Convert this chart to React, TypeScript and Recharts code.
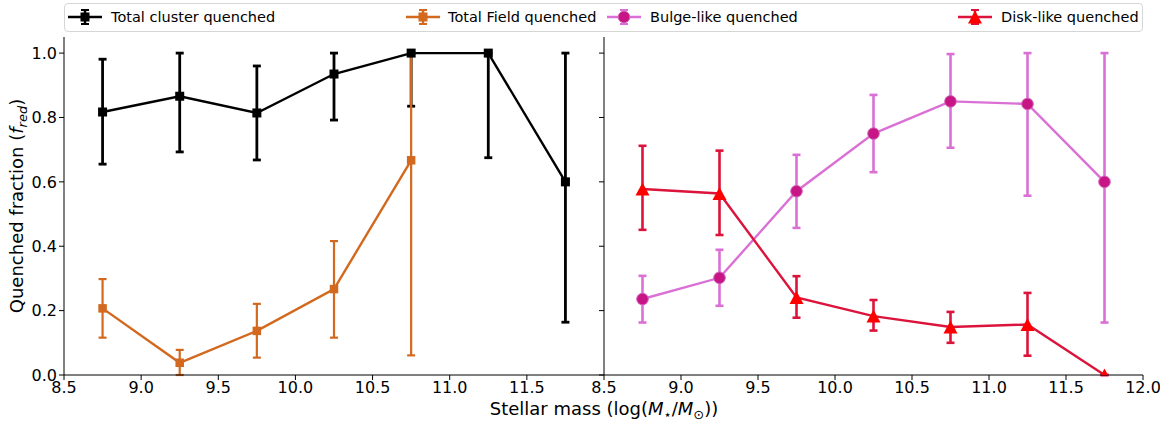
import React from 'react';
import { LineChart, Line, XAxis, YAxis, ErrorBar } from 'recharts';

// stellar mass bin centres, log(M*/Msun)
const massBins = [8.75, 9.25, 9.75, 10.25, 10.75, 11.25, 11.75];

const clusterFrac = [0.817, 0.866, 0.814, 0.935, 1.0, 1.0, 0.6];
const clusterLo = [0.655, 0.693, 0.668, 0.792, 0.835, 0.675, 0.164];
const clusterHi = [0.981, 1.0, 0.96, 1.0, 1.0, 1.0, 1.0];

const fieldFrac = [0.207, 0.038, 0.137, 0.267, 0.667];
const fieldLo = [0.116, 0.0, 0.054, 0.116, 0.061];
const fieldHi = [0.298, 0.078, 0.221, 0.416, 1.0];

const bulgeFrac = [0.236, 0.302, 0.571, 0.75, 0.85, 0.842, 0.6];
const bulgeLo = [0.163, 0.215, 0.457, 0.63, 0.706, 0.557, 0.163];
const bulgeHi = [0.308, 0.389, 0.684, 0.87, 0.997, 1.0, 1.0];

const diskFrac = [0.578, 0.564, 0.241, 0.183, 0.149, 0.157, 0.0];
const diskLo = [0.451, 0.435, 0.178, 0.138, 0.1, 0.06, 0.0];
const diskHi = [0.712, 0.697, 0.307, 0.233, 0.196, 0.255, 0.0];

const leftTicks = [8.5, 9.0, 9.5, 10.0, 10.5, 11.0, 11.5];
const rightTicks = [8.5, 9.0, 9.5, 10.0, 10.5, 11.0, 11.5, 12.0];
const yTicks = [0, 0.2, 0.4, 0.6, 0.8, 1.0];

const FONT = 'DejaVu Sans';

function buildRows(ys: number[], lo: number[], hi: number[]) {
  return ys.map((y, i) => ({ x: massBins[i], y, err: [y - lo[i], hi[i] - y] }));
}

const clusterRows = buildRows(clusterFrac, clusterLo, clusterHi);
const fieldRows = buildRows(fieldFrac, fieldLo, fieldHi);
const bulgeRows = buildRows(bulgeFrac, bulgeLo, bulgeHi);
const diskRows = buildRows(diskFrac, diskLo, diskHi);

const squareDot = (size: number, fill: string) => (p: any) => {
  if (p.cx == null || p.cy == null) return <g key={p.index} />;
  return <rect key={p.index} x={p.cx - size / 2} y={p.cy - size / 2} width={size} height={size} fill={fill} />;
};

const circleDot = (p: any) => {
  if (p.cx == null || p.cy == null) return <g key={p.index} />;
  return <circle key={p.index} cx={p.cx} cy={p.cy} r={5.8} fill="#c71585" stroke="#d063b8" strokeWidth={1} />;
};

const triangleDot = (p: any) => {
  if (p.cx == null || p.cy == null) return <g key={p.index} />;
  const w = 7, h = 6.5;
  return (
    <polygon
      key={p.index}
      points={`${p.cx},${p.cy - h} ${p.cx - w},${p.cy + h} ${p.cx + w},${p.cy + h}`}
      fill="#ff0000"
    />
  );
};

const fmt = (v: number) => v.toFixed(1);
const tickStyle = { fill: '#000', fontSize: 16, fontFamily: FONT };
const axisStroke = { stroke: '#000', strokeWidth: 1 };

function LegendItem({ left, textLeft, label, color, barColor, marker }: any) {
  return (
    <>
      <svg style={{ position: 'absolute', left, top: 7 }} width={34} height={20}>
        <line x1={0} y1={10} x2={34} y2={10} stroke={color} strokeWidth={2.4} />
        <line x1={17} y1={3} x2={17} y2={17} stroke={barColor} strokeWidth={2.5} />
        <line x1={13} y1={3} x2={21} y2={3} stroke={barColor} strokeWidth={2} />
        <line x1={13} y1={17} x2={21} y2={17} stroke={barColor} strokeWidth={2} />
        {marker}
      </svg>
      <div style={{ position: 'absolute', left: textLeft, top: 7, fontSize: 14.5, lineHeight: '20px', color: '#000' }}>
        {label}
      </div>
    </>
  );
}

export default function App() {
  return (
    <div style={{ position: 'absolute', left: 0, top: 0, width: 1172, height: 426, background: '#fff', fontFamily: FONT }}>
      {/* left panel: totals */}
      <div style={{ position: 'absolute', left: 0, top: 0 }}>
        <LineChart width={605} height={426} margin={{ top: 37, right: 1, left: 0, bottom: 0 }}>
          <XAxis
            type="number"
            dataKey="x"
            domain={[8.5, 12]}
            ticks={leftTicks}
            allowDataOverflow
            tickFormatter={fmt}
            tickSize={5}
            height={51}
            tick={tickStyle}
            axisLine={axisStroke}
            tickLine={axisStroke}
          />
          <XAxis xAxisId="t" orientation="top" type="number" domain={[8.5, 12]} tick={false} tickLine={false} height={0} axisLine={axisStroke} />
          <YAxis
            type="number"
            domain={[0, 1.05]}
            ticks={yTicks}
            allowDataOverflow
            tickFormatter={fmt}
            tickSize={5}
            width={64}
            tick={tickStyle}
            axisLine={axisStroke}
            tickLine={axisStroke}
          />
          <Line data={clusterRows} dataKey="y" stroke="#000" strokeWidth={2.4} dot={squareDot(9, '#000')} isAnimationActive={false}>
            <ErrorBar dataKey="err" direction="y" width={4} stroke="#000" strokeWidth={2.8} />
          </Line>
          <Line data={fieldRows} dataKey="y" stroke="#d2691e" strokeWidth={2.4} dot={squareDot(8.5, '#d2691e')} isAnimationActive={false}>
            <ErrorBar dataKey="err" direction="y" width={4} stroke="#d2691e" strokeWidth={2.2} />
          </Line>
        </LineChart>
      </div>

      {/* right panel: morphology */}
      <div style={{ position: 'absolute', left: 560, top: 0 }}>
        <LineChart width={600} height={426} margin={{ top: 37, right: 17, left: 0, bottom: 0 }}>
          <XAxis
            type="number"
            dataKey="x"
            domain={[8.5, 12]}
            ticks={rightTicks}
            allowDataOverflow
            tickFormatter={fmt}
            tickSize={5}
            height={51}
            tick={tickStyle}
            axisLine={axisStroke}
            tickLine={axisStroke}
          />
          <XAxis xAxisId="t" orientation="top" type="number" domain={[8.5, 12]} tick={false} tickLine={false} height={0} axisLine={axisStroke} />
          <YAxis
            type="number"
            domain={[0, 1.05]}
            ticks={yTicks}
            allowDataOverflow
            tickFormatter={() => ''}
            tickSize={5}
            width={44}
            tick={tickStyle}
            axisLine={axisStroke}
            tickLine={axisStroke}
          />
          <YAxis yAxisId="r" orientation="right" type="number" domain={[0, 1.05]} tick={false} tickLine={false} width={0} axisLine={axisStroke} />
          <Line data={bulgeRows} dataKey="y" stroke="#da70d6" strokeWidth={2.4} dot={circleDot} isAnimationActive={false}>
            <ErrorBar dataKey="err" direction="y" width={4} stroke="#da70d6" strokeWidth={2.6} />
          </Line>
          <Line data={diskRows} dataKey="y" stroke="#dc143c" strokeWidth={2.4} dot={triangleDot} isAnimationActive={false}>
            <ErrorBar dataKey="err" direction="y" width={4} stroke="#dc143c" strokeWidth={2.6} />
          </Line>
        </LineChart>
      </div>

      {/* legend */}
      <div
        style={{
          position: 'absolute',
          left: 64,
          top: 3,
          width: 1079,
          height: 29,
          border: '1px solid #d6d6d6',
          borderRadius: 4,
          boxSizing: 'border-box',
          background: '#fff',
        }}
      />
      <LegendItem left={68} textLeft={111} label="Total cluster quenched" color="#000" barColor="#000"
        marker={<rect x={12.5} y={5.5} width={9} height={9} fill="#000" />} />
      <LegendItem left={406} textLeft={448} label="Total Field quenched" color="#d2691e" barColor="#d2691e"
        marker={<rect x={12.5} y={5.5} width={9} height={9} fill="#d2691e" />} />
      <LegendItem left={607} textLeft={650} label="Bulge-like quenched" color="#da70d6" barColor="#da70d6"
        marker={<circle cx={17} cy={10} r={5.8} fill="#c71585" stroke="#d063b8" strokeWidth={1} />} />
      <LegendItem left={958} textLeft={1001} label="Disk-like quenched" color="#dc143c" barColor="#dc143c"
        marker={<polygon points="17,3.5 10,16.5 24,16.5" fill="#ff0000" />} />

      {/* axis titles */}
      <div
        style={{
          position: 'absolute',
          left: 18,
          top: 206,
          transform: 'translate(-50%, -50%) rotate(-90deg)',
          whiteSpace: 'nowrap',
          fontSize: 18,
          color: '#000',
        }}
      >
        Quenched fraction (<i>f</i><sub style={{ fontSize: 13, fontStyle: 'italic' }}>red</sub>)
      </div>
      <div
        style={{
          position: 'absolute',
          left: 604,
          top: 410,
          transform: 'translate(-50%, -50%)',
          whiteSpace: 'nowrap',
          fontSize: 18,
          color: '#000',
        }}
      >
        Stellar mass (log(<i>M</i><sub style={{ fontSize: 13 }}>⋆</sub>/<i>M</i><sub style={{ fontSize: 13 }}>⊙</sub>))
      </div>
    </div>
  );
}
